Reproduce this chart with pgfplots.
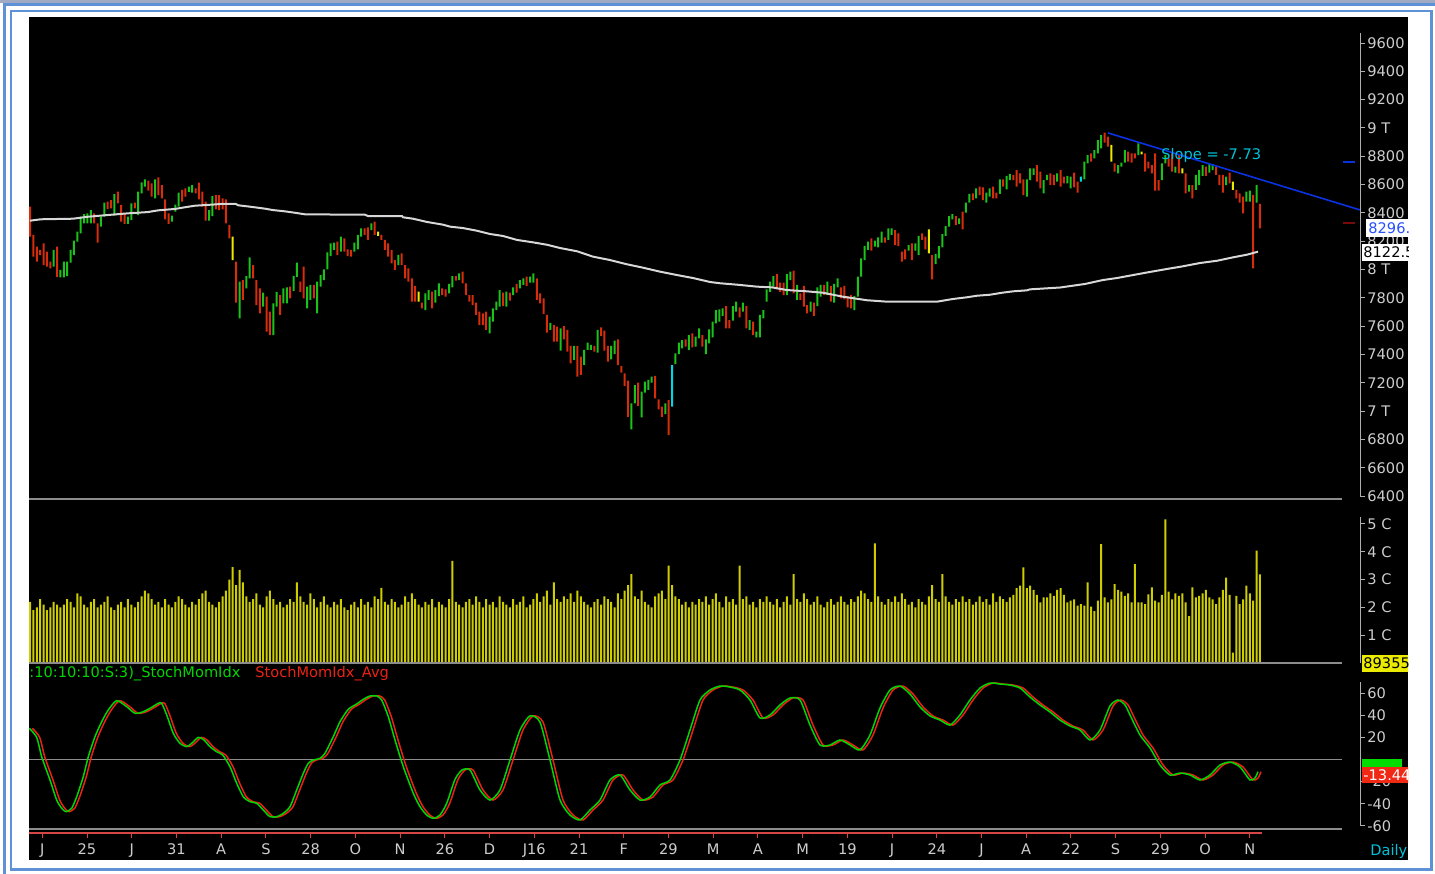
\documentclass[border=0pt]{standalone}
\usepackage{fontspec}
\setmainfont{DejaVu Sans}
\usepackage{pgfplots}
\usepackage{pgfplotstable}
\pgfplotsset{compat=1.18}
\definecolor{cg}{RGB}{25,195,25}
\definecolor{cr}{RGB}{215,45,10}
\definecolor{cy}{RGB}{235,235,0}
\definecolor{cc}{RGB}{0,215,230}
\definecolor{vy}{RGB}{205,205,0}
\definecolor{maw}{RGB}{215,215,215}
\definecolor{sepgray}{RGB}{140,140,140}
\definecolor{tickgray}{RGB}{175,175,175}
\definecolor{lab}{RGB}{205,205,205}
\definecolor{stg}{RGB}{0,215,0}
\definecolor{str}{RGB}{235,35,20}
\definecolor{datered}{RGB}{215,70,70}
\definecolor{trendblue}{RGB}{10,50,225}
\definecolor{slopecyan}{RGB}{0,195,215}
\definecolor{frameblue}{RGB}{95,145,215}
\definecolor{topstrip}{RGB}{160,170,195}
\definecolor{lblblue}{RGB}{40,80,255}
\definecolor{boxgreen}{RGB}{0,220,0}
\definecolor{boxred}{RGB}{240,40,20}
\definecolor{darkred}{RGB}{120,10,10}
\newcommand\sm{\fontsize{7.3}{8.5}\selectfont}
\pgfplotsset{panel/.style={scale only axis, width=665.5pt, xmin=29, xmax=1360, anchor=south west,
  axis y line*=right, y axis line style={draw=none},
  tick align=outside, major tick length=2.5pt,
  ytick style={draw=tickgray, line width=0.5pt},
  yticklabel style={font=\sm, text=lab, inner sep=1pt},
  clip=true}}
% k: 1 green, 2 red, 3 yellow, 4 cyan
\newcommand\colbar[2]{\addplot[fill=#2, draw=none] table[x expr=30+3.379*\lineno, y expr={\thisrow{k}==#1 ? \thisrow{hi}-\thisrow{lo} : 0}] {\pricedata};}

\pgfplotstableread{
lo hi k v
8232 8444 2 2.2
8091 8244 2 1.9
8055 8161 2 2.0
8102 8138 2 2.3
8032 8185 2 2.1
8020 8126 2 1.9
8008 8055 2 2.0
8020 8138 1 2.2
7949 8161 2 2.1
7945 7997 1 2.0
7945 8055 1 2.1
7954 8055 1 2.3
8048 8138 1 2.2
8102 8204 1 2.0
8197 8267 1 2.5
8256 8373 1 2.4
8326 8392 1 2.1
8326 8397 1 2.0
8326 8420 1 2.2
8326 8397 2 2.3
8190 8326 2 2.0
8303 8373 1 2.1
8373 8472 1 2.2
8427 8479 2 2.4
8432 8491 2 2.0
8380 8533 1 1.9
8468 8550 2 2.1
8338 8456 2 2.2
8322 8397 2 2.0
8322 8373 1 2.3
8350 8468 1 2.1
8432 8472 2 2.0
8385 8550 1 2.2
8538 8616 1 2.4
8585 8637 1 2.6
8557 8628 2 2.5
8515 8609 2 2.3
8503 8637 1 2.1
8526 8651 2 2.2
8503 8597 2 2.0
8354 8496 2 2.3
8322 8397 2 2.1
8338 8380 1 2.0
8409 8458 1 2.2
8444 8543 1 2.4
8479 8562 2 2.3
8515 8573 2 2.1
8548 8585 1 2.0
8543 8597 1 2.2
8538 8573 2 2.1
8496 8614 2 2.3
8444 8550 2 2.5
8345 8479 2 2.6
8345 8420 1 2.2
8378 8519 1 2.1
8425 8526 2 2.0
8420 8526 2 2.2
8425 8503 2 2.4
8326 8496 2 2.6
8220 8314 2 3.0
8067 8232 3 3.45
7766 8055 2 2.8
7655 7914 1 3.35
7785 7926 2 2.9
7867 7954 1 2.4
7938 8086 1 2.2
7938 8032 2 2.3
7749 7926 2 2.5
7690 7867 2 2.1
7738 7836 1 2.0
7561 7808 2 2.4
7537 7702 2 2.6
7537 7761 1 2.3
7738 7843 1 2.1
7679 7820 2 2.2
7761 7867 1 2.0
7761 7874 1 2.1
7796 7879 2 2.3
7850 7954 1 2.2
7949 8048 1 2.9
7843 7914 2 2.4
7796 8020 2 2.2
7726 7879 1 2.1
7785 7891 1 2.5
7796 7891 2 2.3
7690 7914 1 2.0
7879 7961 1 2.2
7926 8001 1 2.4
8001 8121 1 2.1
8095 8185 1 2.0
8138 8190 1 2.2
8102 8197 2 2.1
8126 8232 1 2.3
8126 8220 2 2.0
8095 8143 2 1.9
8091 8138 2 2.1
8126 8190 1 2.2
8143 8244 1 2.0
8232 8291 1 2.3
8244 8291 2 2.1
8209 8298 2 2.2
8279 8326 1 2.0
8244 8338 2 2.4
8237 8267 3 2.3
8209 8244 2 2.7
8138 8209 2 2.2
8091 8185 2 2.1
8044 8138 2 2.3
7997 8067 2 2.2
8032 8103 1 2.0
8032 8114 2 2.1
7938 8032 2 2.4
7914 8008 2 2.2
7773 7938 2 2.5
7773 7884 2 2.3
7773 7844 3 2.1
7726 7766 2 2.0
7714 7832 1 2.2
7785 7855 1 2.1
7726 7844 2 2.3
7766 7855 1 2.0
7813 7902 1 2.2
7820 7867 2 2.1
7808 7860 2 2.0
7832 7898 1 2.3
7874 7954 1 3.67
7921 7954 2 2.2
7926 7973 1 2.1
7902 7985 2 2.0
7820 7902 2 2.2
7773 7820 2 2.3
7749 7820 2 2.1
7679 7766 2 2.4
7608 7702 2 2.2
7608 7690 2 2.0
7573 7702 2 2.3
7549 7667 1 2.1
7632 7726 1 2.2
7714 7773 1 2.0
7738 7855 1 2.4
7742 7836 2 2.2
7738 7844 1 2.1
7780 7836 2 2.0
7820 7874 1 2.3
7836 7898 2 2.1
7867 7926 1 2.2
7891 7938 1 2.4
7884 7950 2 2.0
7907 7950 1 2.1
7907 7973 1 2.3
7785 7938 2 2.5
7761 7832 2 2.2
7686 7796 2 2.4
7554 7679 2 2.6
7573 7624 1 2.1
7490 7608 2 2.9
7490 7596 2 2.3
7427 7584 1 2.2
7507 7601 2 2.4
7420 7573 2 2.3
7337 7460 2 2.5
7361 7460 1 2.2
7243 7460 2 2.6
7255 7384 2 2.4
7326 7432 1 2.2
7432 7483 1 2.1
7432 7467 1 2.0
7420 7460 2 2.2
7413 7573 1 2.3
7530 7592 2 2.1
7427 7568 2 2.4
7349 7460 2 2.3
7366 7460 1 2.2
7403 7497 1 2.0
7325 7507 2 2.5
7271 7318 2 2.3
7177 7267 2 2.6
6960 7215 2 2.8
6871 7055 1 3.2
7055 7184 1 2.4
7036 7201 2 2.3
6956 7137 1 2.6
7130 7208 1 2.2
7149 7220 1 2.1
7201 7243 1 2.0
7090 7248 2 2.4
7012 7083 2 2.5
6960 7031 2 2.6
6979 7055 1 2.3
6831 7078 2 3.5
7031 7325 4 2.8
7332 7408 1 2.4
7403 7483 1 2.3
7443 7502 1 2.1
7455 7507 2 2.2
7432 7537 1 2.0
7450 7549 2 2.2
7455 7526 1 2.1
7514 7584 1 2.3
7455 7537 2 2.2
7403 7507 1 2.4
7478 7577 1 2.1
7521 7632 1 2.3
7620 7714 1 2.5
7632 7719 1 2.2
7672 7726 1 2.0
7584 7742 2 2.4
7584 7643 2 2.2
7639 7742 1 2.3
7702 7773 1 2.1
7662 7733 2 3.5
7702 7766 1 2.3
7584 7742 2 2.4
7573 7643 1 2.1
7537 7632 2 2.2
7521 7561 1 2.0
7521 7679 1 2.3
7655 7714 1 2.2
7773 7860 1 2.4
7843 7914 1 2.2
7879 7954 1 2.1
7860 7968 2 2.3
7843 7907 2 2.0
7820 7907 2 2.2
7820 7968 1 2.4
7926 7985 1 2.1
7832 7992 2 3.2
7785 7891 1 2.3
7785 7832 2 2.2
7738 7884 2 2.5
7690 7749 2 2.3
7702 7773 1 2.1
7672 7766 2 2.2
7742 7874 1 2.4
7808 7891 1 2.1
7820 7891 2 2.0
7820 7914 1 2.2
7773 7884 2 2.3
7766 7898 1 2.1
7874 7938 1 2.2
7796 7874 2 2.4
7789 7884 2 2.2
7733 7813 2 2.1
7726 7820 2 2.3
7714 7813 1 2.2
7808 7950 1 2.4
7950 8079 1 2.6
8067 8166 1 2.5
8138 8197 1 2.3
8133 8220 2 2.2
8161 8204 1 4.3
8157 8227 1 2.4
8190 8267 1 2.2
8190 8227 2 2.1
8209 8291 1 2.3
8244 8291 1 2.2
8173 8279 2 2.4
8166 8256 2 2.2
8055 8126 2 2.5
8072 8143 2 2.3
8133 8173 1 2.1
8067 8185 2 2.2
8133 8185 1 2.0
8102 8237 1 2.3
8209 8256 2 2.2
8143 8232 2 2.1
8114 8284 3 2.4
7931 8102 2 2.8
8039 8110 1 2.3
8079 8166 1 2.2
8157 8251 1 3.2
8237 8307 1 2.4
8303 8378 1 2.2
8354 8392 1 2.1
8314 8378 2 2.3
8321 8361 1 2.2
8284 8409 2 2.4
8402 8472 1 2.2
8472 8534 1 2.3
8491 8538 2 2.1
8503 8574 1 2.2
8526 8585 2 2.4
8491 8581 2 2.2
8472 8543 1 2.3
8515 8574 1 2.1
8503 8585 2 2.5
8503 8543 2 2.2
8534 8637 1 2.4
8585 8637 2 2.3
8566 8661 1 2.2
8632 8675 1 2.36
8632 8668 2 2.45
8585 8703 2 2.69
8609 8680 2 2.78
8526 8637 2 3.44
8515 8637 1 2.69
8632 8715 1 2.78
8668 8715 1 2.63
8621 8738 2 2.45
8574 8691 2 2.18
8538 8632 1 2.36
8632 8668 1 2.36
8597 8680 2 2.50
8597 8668 2 2.41
8621 8680 1 2.63
8585 8703 2 2.69
8609 8656 2 2.45
8609 8661 1 2.18
8574 8656 1 2.24
8581 8684 2 2.29
8543 8621 2 2.06
8621 8656 4 2.12
8637 8762 1 2.06
8750 8809 1 2.90
8762 8821 2 2.03
8785 8844 1 1.87
8821 8915 1 2.24
8856 8950 1 4.28
8896 8967 2 2.36
8868 8939 2 2.18
8762 8880 3 2.29
8691 8750 2 2.84
8680 8738 1 2.63
8727 8755 1 2.57
8755 8844 1 2.41
8762 8833 2 2.50
8755 8821 2 2.18
8785 8821 2 3.56
8809 8891 1 2.18
8814 8833 3 2.18
8691 8821 2 2.12
8715 8762 2 2.47
8680 8738 2 2.72
8557 8821 2 2.24
8557 8632 2 2.18
8632 8750 1 2.45
8750 8809 1 5.17
8727 8785 2 2.57
8691 8821 2 2.29
8684 8727 1 2.50
8680 8809 2 2.41
8680 8715 3 2.50
8538 8680 2 2.18
8550 8597 1 1.69
8503 8597 2 2.72
8562 8668 1 2.36
8597 8703 1 2.41
8661 8738 1 2.50
8661 8727 2 2.63
8684 8750 1 2.36
8703 8745 1 2.29
8668 8727 2 2.12
8597 8668 2 2.36
8543 8668 2 2.63
8597 8656 1 3.07
8609 8684 2 2.45
8562 8621 3 0.37
8503 8562 2 2.41
8472 8538 2 2.12
8397 8515 2 2.29
8479 8550 1 2.78
8479 8557 1 2.50
8008 8527 2 2.24
8472 8597 1 4.04
8291 8463 2 3.19
}\pricedata

\pgfplotstableread{
px v
29.3 28.2
36.7 20.0
41.7 2.5
50 -18.5
56.7 -36.6
61.7 -44.0
66 -47.1
71.7 -44.0
76.7 -33.6
83.3 -15.5
88.3 2.5
95 20.6
101.7 34.1
108.3 44.7
116.7 53.1
126.7 47.7
135 41.7
143.3 43.1
151.7 47.1
158.3 50.7
161.7 50.7
166.7 40.2
173.3 23.6
180 14.6
186.7 11.6
191.7 14.6
198.3 20.0
204 17.6
210 11.6
216.7 7.0
222.7 4.1
230 -6.5
236.7 -21.5
243.3 -33.6
250 -38.1
256.7 -39.5
263.3 -45.6
270 -51.6
276.7 -51.6
283.3 -48.6
290 -42.6
296.7 -27.5
303.3 -12.5
308.3 -3.4
313.3 -0.5
320 1.1
325 5.6
333.3 20.6
340 34.1
348.3 45.3
356.7 50.1
363.3 54.3
370 57.3
376.7 57.3
381.7 53.7
388.3 38.6
395 17.6
403.3 -6.5
413.3 -30.5
420 -42.6
426.7 -50.1
433.3 -53.1
440 -50.1
446.7 -39.6
455 -18
462 -9.5
470 -9.5
480 -27.5
490 -36.6
500 -27.5
510 -0.5
520 26.6
530 39.3
540 33.8
550 -0.5
560 -36.6
570 -50.1
580 -54.6
590 -45.6
600 -36.6
610 -18.5
620 -14
630 -27.5
640 -36.6
650 -33.8
660 -23
670 -18.5
680 -0.5
690 26.6
700 53.7
710 62.7
720 66.3
730 65.4
740 62.7
750 53.7
760 37.5
770 40.2
780 49.2
790 55.5
800 53.7
810 31.1
820 13.1
830 13.1
840 17.6
850 13.1
860 8.6
870 22.1
880 46.5
890 62.7
900 66.3
910 59.1
920 47.4
930 39.3
940 35.6
950 31.1
960 40.2
970 53.7
980 64.5
990 69.0
1000 68.1
1010 67.2
1020 64.5
1030 56.4
1040 49.2
1050 42.9
1060 35.6
1070 30.2
1080 26.6
1090 17.6
1100 26.6
1110 48.3
1118 53.7
1125 49.2
1130 40.2
1140 22.1
1150 10.4
1160 -5.0
1170 -14.0
1180 -12.2
1190 -14.0
1200 -18.5
1210 -14.0
1220 -5.0
1230 -2.3
1240 -6.8
1250 -18.5
1255 -16.7
1258 -11
}\stochdata

\begin{document}
\begin{tikzpicture}[x=0.5pt,y=0.5pt]
\useasboundingbox (0,0) rectangle (1435,873);
\begin{scope}[yshift=436.5pt,y=-0.5pt]
\fill[white] (0,0) rectangle (1435,873);
\fill[topstrip] (0,0) rectangle (1435,3);
\draw[frameblue, line width=1.5pt] (4,5) rectangle (1450,890);
\draw[frameblue, line width=1.2pt] (11,11) rectangle (1431.5,869.5);
\fill[black] (29,17) rectangle (1408,860);
\end{scope}

% price bars (high-low ranges, stacked on an invisible base at the low)
\begin{axis}[scale only axis, width=665.5pt, height=241pt, at={(14.5pt,187pt)}, anchor=south west,
  xmin=29, xmax=1360, ymin=6379, ymax=9784, hide axis, ybar stacked, bar width=1pt, clip=true]
\addplot[draw=none, fill=none] table[x expr=30+3.379*\lineno, y=lo] {\pricedata};
\colbar{1}{cg}
\colbar{2}{cr}
\colbar{3}{cy}
\colbar{4}{cc}
\end{axis}

% price panel
\begin{axis}[panel, axis x line=none, at={(14.5pt,187pt)}, height=241pt, ymin=6379, ymax=9784,
  ytick={6400,6600,6800,7000,7200,7400,7600,7800,8000,8200,8400,8600,8800,9000,9200,9400,9600},
  yticklabels={6400,6600,6800,7 T,7200,7400,7600,7800,8 T,8200,8400,8600,8800,9 T,9200,9400,9600}]
\addplot[maw, line width=1pt] coordinates {(30,8345) (41,8355) (73,8359) (88,8373) (111,8387) (128,8397) (148,8406) (158,8418) (175,8428) (185,8440) (195,8451) (211,8458) (221,8463) (236,8463) (238,8454) (250,8444) (265,8430) (273,8420) (285,8411) (295,8401) (305,8390) (365,8387) (368,8378) (402,8378) (403,8369) (413,8359) (427,8336) (443,8317) (450,8303) (463,8293) (477,8274) (490,8251) (503,8237) (517,8209) (533,8192) (547,8175) (560,8152) (577,8129) (593,8091) (610,8067) (627,8037) (643,8013) (660,7985) (677,7961) (693,7940) (710,7912) (720,7903) (737,7893) (757,7879) (772,7874) (787,7855) (807,7846) (823,7836) (843,7808) (867,7783) (887,7773) (937,7773) (953,7792) (967,7804) (977,7815) (990,7822) (1002,7836) (1013,7846) (1027,7853) (1030,7860) (1060,7873) (1085,7898) (1103,7926) (1117,7940) (1133,7961) (1150,7983) (1167,8004) (1183,8023) (1200,8046) (1217,8062) (1233,8086) (1247,8105) (1258,8126)};
\addplot[trendblue, line width=0.8pt] coordinates {(1108,8965) (1360,8421)};
\end{axis}

% volume panel
\begin{axis}[panel, axis x line=none, at={(14.5pt,105pt)}, height=81.5pt, ymin=0, ymax=5.863,
  ytick={1,2,3,4,5}, yticklabels={1 C,2 C,3 C,4 C,5 C}]
\addplot[ybar, bar width=1pt, bar shift=0pt, fill=vy, draw=none] table[x expr=30+3.379*\lineno, y=v] {\pricedata};
\end{axis}

% stochastic panel
\begin{axis}[panel, at={(14.5pt,20pt)}, height=84pt, ymin=-66.34, ymax=85.29,
  axis x line*=bottom, x axis line style={draw=none},
  xtick style={draw=datered, line width=0.5pt},
  xtick={42.3,87.0,131.7,176.5,221.2,265.9,310.6,355.4,400.1,444.8,489.5,534.2,579.0,623.7,668.4,713.1,757.9,802.6,847.3,892.0,936.8,981.5,1026.2,1070.9,1115.6,1160.4,1205.1,1249.8},
  xticklabels={J,25,J,31,A,S,28,O,N,26,D,J16,21,F,29,M,A,M,19,J,24,J,A,22,S,29,O,N},
  xticklabel style={font=\sm, text=lab, inner sep=1pt, yshift=-1.5pt},
  ytick={-60,-40,-20,20,40,60}, yticklabels={-60,-40,-20,20,40,60}]
\draw[sepgray, line width=0.6pt] (29,0) -- (1342,0);
\draw[sepgray, line width=1pt] (29,-62.7) -- (1342,-62.7);
\addplot[str, line width=0.75pt, smooth, tension=0.4] table[x expr=\thisrow{px}+3, y=v] {\stochdata};
\addplot[stg, line width=0.75pt, smooth, tension=0.4] table[x=px, y=v] {\stochdata};
\end{axis}

\begin{scope}[yshift=436.5pt,y=-0.5pt]
\draw[sepgray, line width=0.7pt] (29,499) -- (1342,499);
\draw[sepgray, line width=1pt] (29,663.5) -- (1342,663.5);
\draw[tickgray, line width=0.5pt] (1360,33) -- (1360,496);
\draw[tickgray, line width=0.5pt] (1360,517) -- (1360,663);
\draw[tickgray, line width=0.5pt] (1360,682) -- (1360,826);
\draw[datered, line width=0.6pt] (29,833) -- (1262,833);
\draw[trendblue, line width=1pt] (1343,162) -- (1355,162);
\draw[darkred, line width=1pt] (1343,223) -- (1355,223);
\node[anchor=west, inner sep=0, text=slopecyan, font=\sm] at (1161,155) {Slope = -7.73};
\node[anchor=west, inner sep=0, text=stg, font=\sm] at (29,674) {:10:10:10:S:3)\_StochMomIdx};
\node[anchor=west, inner sep=0, text=str, font=\sm] at (255,674) {StochMomIdx\_Avg};
\node[anchor=west, inner sep=0, text=slopecyan, font=\sm] at (1370,851) {Daily};
\begin{scope}
\clip (1340,0) rectangle (1408,873);
\fill[white] (1366,219) rectangle (1420,237);
\node[anchor=west, inner sep=0, text=lblblue, font=\sm] at (1368,228) {8296.};
\fill[white] (1362,244) rectangle (1420,261);
\node[anchor=west, inner sep=0, text=black, font=\sm] at (1363,252.5) {8122.5};
\fill[cy] (1362,655) rectangle (1420,672);
\node[anchor=west, inner sep=0, text=black, font=\sm] at (1363,663.5) {89355};
\fill[boxgreen] (1362,759) rectangle (1402,771);
\fill[boxred] (1362,767) rectangle (1420,783);
\node[anchor=west, inner sep=0, text=white, font=\sm] at (1363,775) {-13.44};
\end{scope}
\end{scope}
\end{tikzpicture}
\end{document}
